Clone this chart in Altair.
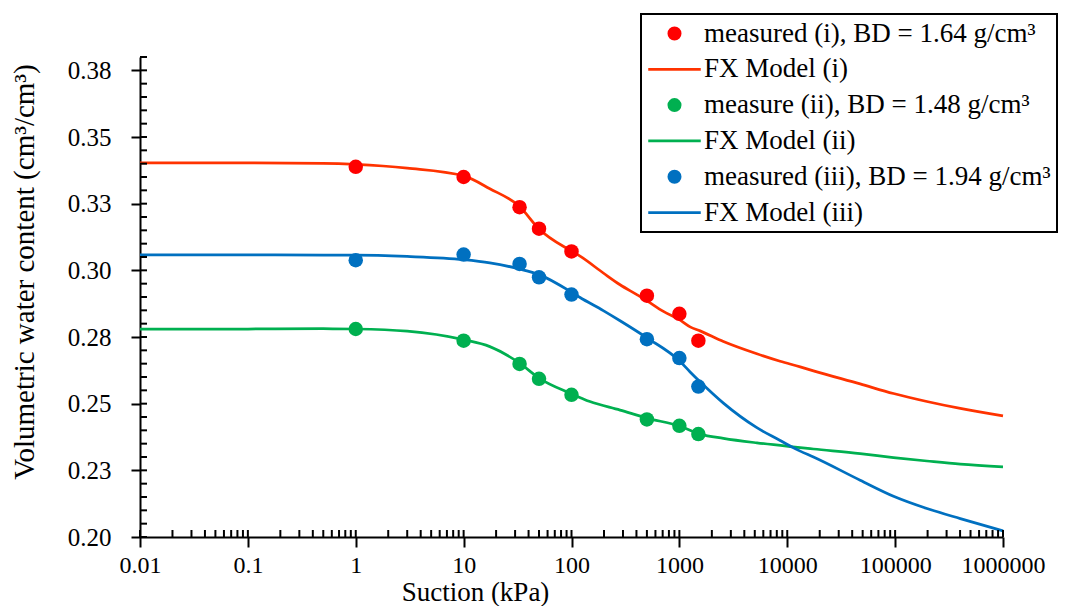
import altair as alt
import pandas as pd

FONT = "Liberation Serif"

# ---- series labels & colours ----
labels = [
    "measured (i), BD = 1.64 g/cm³",
    "FX Model (i)",
    "measure (ii), BD = 1.48 g/cm³",
    "FX Model (ii)",
    "\u00a0measured (iii), BD = 1.94 g/cm³",
    "FX Model (iii)",
]
colors = ["#FF0000", "#FF3300", "#00B050", "#00B050", "#0070C0", "#0070C0"]

# ---- measured data ----
meas_suction = [1, 10, 33, 50, 100, 500, 1000, 1500]
meas_i = [0.3388, 0.3350, 0.3237, 0.3156, 0.3071, 0.2905, 0.2837, 0.2736]
meas_ii = [0.2780, 0.2736, 0.2649, 0.2593, 0.2533, 0.2441, 0.2417, 0.2386]
meas_iii = [0.3038, 0.3059, 0.3024, 0.2974, 0.2909, 0.2742, 0.2671, 0.2564]

# ---- model curves ----
model_i_s = [0.01, 0.1, 0.5, 1, 3, 10, 17.5, 33, 50, 100, 120, 197, 282, 403, 500,
             711, 1000, 1257, 1556, 2560, 5226, 8590, 13180, 17500, 47400, 96600,
             197000, 402000, 1000000]
model_i_v = [0.3403, 0.3403, 0.3401, 0.3397, 0.3383, 0.3354, 0.3306, 0.3239, 0.3155,
             0.3072, 0.3053, 0.2990, 0.2946, 0.2909, 0.2886, 0.2846, 0.2815, 0.2788,
             0.2773, 0.2733, 0.2687, 0.2659, 0.2638, 0.2623, 0.2574, 0.2538, 0.2508,
             0.2482, 0.2454]

model_ii_s = [0.01, 0.1, 0.5, 1, 3, 10, 17.5, 33, 50, 100, 148, 282, 500, 1000, 1556,
              2560, 5226, 10640, 17500, 47400, 96600, 197000, 402000, 1000000]
model_ii_v = [0.2780, 0.2780, 0.2781, 0.2780, 0.2772, 0.2740, 0.2714, 0.2652, 0.2596,
              0.2537, 0.2508, 0.2476, 0.2446, 0.2416, 0.2386, 0.2370, 0.2353, 0.2339,
              0.2330, 0.2313, 0.2298, 0.2285, 0.2273, 0.2263]

model_iii_s = [0.01, 0.1, 0.5, 1, 3, 10, 17.5, 33, 50, 100, 120, 197, 282, 500, 1000,
               1257, 1556, 2560, 5226, 8590, 10640, 13180, 17500, 47400, 96600, 197000,
               402000, 1000000]
model_iii_v = [0.3058, 0.3058, 0.3057, 0.3057, 0.3052, 0.3040, 0.3028, 0.3005, 0.2984,
               0.2918, 0.2898, 0.2849, 0.2811, 0.2747, 0.2661, 0.2619, 0.2582, 0.2502,
               0.2410, 0.2362, 0.2341, 0.2322, 0.2300, 0.2213, 0.2153, 0.2107, 0.2069,
               0.2023]

# ---- axis ticks ----
x_tick_values = [0.01, 0.1, 1, 10, 100, 1000, 10000, 100000, 1000000]
y_tick_values = [0.2, 0.225, 0.25, 0.275, 0.3, 0.325, 0.35, 0.375]
x_minor = [m * d for d in [0.01, 0.1, 1, 10, 100, 1000, 10000, 100000] for m in range(1, 10)] + [1000000]
y_minor = [round(0.2 + 0.005 * i, 3) for i in range(37)]

# ---- tables ----
pts = pd.DataFrame({
    "s": meas_suction * 3,
    "v": meas_i + meas_ii + meas_iii,
    "series": [labels[0]] * 8 + [labels[2]] * 8 + [labels[4]] * 8,
})
lines = pd.concat([
    pd.DataFrame({"s": model_i_s, "v": model_i_v, "series": labels[1]}),
    pd.DataFrame({"s": model_ii_s, "v": model_ii_v, "series": labels[3]}),
    pd.DataFrame({"s": model_iii_s, "v": model_iii_v, "series": labels[5]}),
])

xscale = alt.Scale(type="log", domain=[0.01, 1000000], nice=False)
yscale = alt.Scale(domain=[0.2, 0.38], nice=False, zero=False)
cscale = alt.Scale(domain=labels, range=colors)

common_axis = dict(
    grid=False, domainColor="black", domainWidth=2, tickColor="black", tickWidth=2,
    labelFont=FONT, labelColor="black",
    titleFont=FONT, titleFontWeight="normal", titleColor="black",
    labelFlush=False, labelOverlap=False,
)
xaxis = alt.Axis(values=x_tick_values, format=".2~f", title="Suction (kPa)",
                 tickSize=10, labelPadding=6, labelFontSize=24, titleFontSize=27,
                 titleX=335, titleY=63, titleAlign="center",
                 titleBaseline="alphabetic", **common_axis)
yaxis = alt.Axis(values=y_tick_values, format=".2f",
                 title="Volumetric water content (cm³/cm³)",
                 tickSize=9, labelPadding=20, labelFontSize=25, titleFontSize=29,
                 titleX=-107, titleY=214.5,
                 titleBaseline="alphabetic", titleAlign="center", **common_axis)

X = alt.X("s:Q", scale=xscale, axis=xaxis, title="Suction (kPa)")
Y = alt.Y("v:Q", scale=yscale, axis=yaxis, title="Volumetric water content (cm³/cm³)")

is_line = "indexof(datum.value, 'FX') == 0"
legend = alt.Legend(
    title=None, orient="none", legendX=501, legendY=-43,
    labelFont=FONT, labelFontSize=27, labelColor="black", labelLimit=0,
    labelExpr="datum.label + '" + "\u00a0" * 12 + "'",
    symbolSize=127, symbolStrokeWidth=2.75,
    symbolType={"expr": f"{is_line} ? 'M-4.66,0H4.66' : 'circle'"},
    symbolFillColor={"expr": f"{is_line} ? 'transparent' : scale('color', datum.value)"},
    symbolStrokeColor={"expr": "scale('color', datum.value)"},
    symbolOpacity=1,
    symbolOffset=14, labelOffset=16,
    padding=6, rowPadding=7.8, strokeColor="black", fillColor="white",
)

line_layer = alt.Chart(lines).mark_line(strokeWidth=2.75, interpolate="monotone").encode(
    x=X, y=Y,
    color=alt.Color("series:N", scale=cscale, legend=legend),
    detail="series:N",
)

point_layer = alt.Chart(pts).mark_circle(size=210, opacity=1).encode(
    x=X, y=Y,
    color=alt.Color("series:N", scale=cscale, legend=legend),
)

ytick_layer = alt.Chart(pd.DataFrame({"v": y_minor})).mark_rule(
    color="black", strokeWidth=2
).encode(y=Y, x=alt.value(0), x2=alt.value(7))

xtick_layer = alt.Chart(pd.DataFrame({"s": x_minor})).mark_rule(
    color="black", strokeWidth=2
).encode(x=X, y=alt.value(473), y2=alt.value(480))

chart = alt.layer(line_layer, ytick_layer, xtick_layer, point_layer).properties(
    width=863, height=480,
    padding={"left": 132, "top": 49, "right": 68, "bottom": 69},
    autosize=alt.AutoSizeParams(type="none"),
    background="white",
).configure_view(stroke=None).configure_legend(strokeWidth=2)

chart.save("out.html", embed_options={"renderer": "svg", "actions": False})
